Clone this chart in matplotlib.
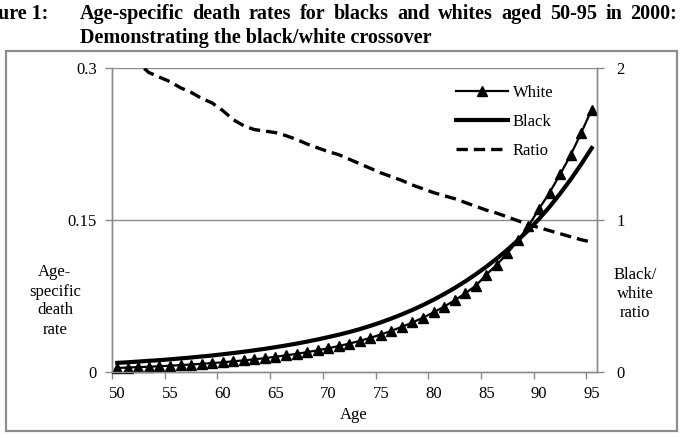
import matplotlib
matplotlib.use("Agg")
import matplotlib.pyplot as plt
from matplotlib.patches import Rectangle

plt.rcParams['font.family'] = ['Liberation Serif', 'DejaVu Serif']

ages = list(range(50, 96))
white = [0.0040, 0.0044, 0.0048, 0.0052, 0.0057, 0.0062, 0.0068, 0.0074, 0.0081, 0.0088,
         0.0096, 0.0105, 0.0115, 0.0125, 0.0137, 0.0150, 0.0164, 0.0179, 0.0196, 0.0214,
         0.0234, 0.0256, 0.0280, 0.0307, 0.0337, 0.0370, 0.0406, 0.0446, 0.0489, 0.0536,
         0.0588, 0.0645, 0.0707, 0.0776, 0.0851, 0.0960, 0.1060, 0.1170, 0.1300, 0.1440,
         0.1610, 0.1770, 0.1950, 0.2140, 0.2360, 0.2590]
black = [0.0090, 0.0096, 0.0103, 0.0110, 0.0117, 0.0125, 0.0134, 0.0143, 0.0153, 0.0163,
         0.0175, 0.0187, 0.0200, 0.0214, 0.0229, 0.0245, 0.0262, 0.0280, 0.0300, 0.0321,
         0.0344, 0.0368, 0.0394, 0.0423, 0.0455, 0.0490, 0.0528, 0.0569, 0.0613, 0.0661,
         0.0713, 0.0769, 0.0829, 0.0894, 0.0964, 0.1039, 0.1120, 0.1207, 0.1300, 0.1400,
         0.1510, 0.1630, 0.1760, 0.1900, 0.2050, 0.2210]
ratio = [2.14, 2.09, 2.03, 1.97, 1.94, 1.91, 1.87, 1.84, 1.80, 1.77,
         1.72, 1.66, 1.62, 1.595, 1.585, 1.575, 1.555, 1.53, 1.50, 1.475,
         1.45, 1.43, 1.40, 1.37, 1.34, 1.31, 1.285, 1.26, 1.23, 1.205,
         1.18, 1.16, 1.14, 1.115, 1.09, 1.065, 1.045, 1.02, 0.995, 0.97,
         0.95, 0.93, 0.91, 0.89, 0.87, 0.855]
xtick_labels = [50, 55, 60, 65, 70, 75, 80, 85, 90, 95]
yticks_left = [0, 0.15, 0.3]
yticks_right = [0, 1, 2]

W, H = 682, 438
fig = plt.figure(figsize=(W / 100, H / 100), dpi=100)
grey = '#8c8c8c'

def fx(px):
    return px / W

def fy(py):
    return 1 - py / H

# outer box
fig.patches.append(Rectangle((fx(6), fy(431)), fx(677) - fx(6), fy(51) - fy(431),
                             transform=fig.transFigure, fill=False, edgecolor=grey,
                             linewidth=1.6, zorder=0))

ax = fig.add_axes([fx(112), fy(372), fx(597) - fx(112), fy(68) - fy(372)])
ax2 = ax.twinx()

ax.set_xlim(49.5, 95.5)
ax.set_ylim(0, 0.3)
ax2.set_ylim(0, 2)

lw_, = ax.plot(ages, white, color='black', lw=1.6, marker='^', markersize=6.5,
               label='White', zorder=3, clip_on=False)
lb_, = ax.plot(ages, black, color='black', lw=3.0, label='Black', zorder=3)
lr_, = ax2.plot(ages, ratio, color='black', lw=2.4, linestyle=(0, (3.4, 1.8)), label='Ratio')

# gridlines
for v in yticks_left[1:]:
    ax.axhline(v, color=grey, lw=1.0, zorder=1)

for a in (ax, ax2):
    for s in a.spines.values():
        s.set_color(grey)
        s.set_linewidth(1.0)
    a.spines['top'].set_visible(False)

ax.set_yticks(yticks_left)
ax.set_yticklabels(['0', '0.15', '0.3'])
ax2.set_yticks(yticks_right)
ax2.set_yticklabels(['0', '1', '2'])
ax.set_xticks([t - 0.5 for t in range(50, 96, 5)])
ax.set_xticklabels([])
ax.set_xticks(xtick_labels, minor=True)
ax.set_xticklabels([str(t) for t in xtick_labels], minor=True)
ax.tick_params(axis='x', which='major', length=5, color=grey, width=1.0, direction='out')
ax.tick_params(axis='x', which='minor', length=0, pad=10, labelsize=12)
ax.tick_params(axis='y', length=5, color=grey, width=1.0, pad=6, labelsize=12)
ax2.tick_params(axis='y', length=5, color=grey, width=1.0, pad=9, labelsize=12)

# axis titles
fig.text(fx(354), fy(415), 'Age', ha='center', va='center', fontsize=12)
fig.text(fx(55), fy(301), 'Age-\nspecific\ndeath\nrate', ha='center', va='center',
         fontsize=12, linespacing=1.25)
fig.text(fx(635), fy(294), 'Black/\nwhite\nratio', ha='center', va='center',
         fontsize=12, linespacing=1.25)

leg = ax2.legend(handles=[lw_, lb_, lr_], loc='upper left',
                 bbox_to_anchor=(fx(456), fy(85)), bbox_transform=fig.transFigure,
                 frameon=False, fontsize=12, handlelength=3.1, handletextpad=0.3,
                 labelspacing=0.78, borderpad=0, borderaxespad=0)

# title (justified first line)
tfont = dict(fontsize=14.5, fontweight='bold', family=['Liberation Serif'])
fig.text(fx(-30), fy(14), 'Figure 1:', ha='left', va='center', **tfont)
line1 = 'Age-specific death rates for blacks and whites aged 50-95 in 2000:'.split(' ')
fig.canvas.draw()
r = fig.canvas.get_renderer()
widths = []
for wd in line1:
    t = fig.text(0, 0, wd, **tfont)
    widths.append(t.get_window_extent(r).width)
    t.remove()
x0, x1 = 80, 677
gap = (x1 - x0 - sum(widths)) / (len(line1) - 1)
x = x0
for wd, w in zip(line1, widths):
    fig.text(fx(x), fy(14), wd, ha='left', va='center', **tfont)
    x += w + gap
fig.text(fx(80), fy(38), 'Demonstrating the black/white crossover', ha='left', va='center', **tfont)

fig.savefig('out.png', dpi=100)
